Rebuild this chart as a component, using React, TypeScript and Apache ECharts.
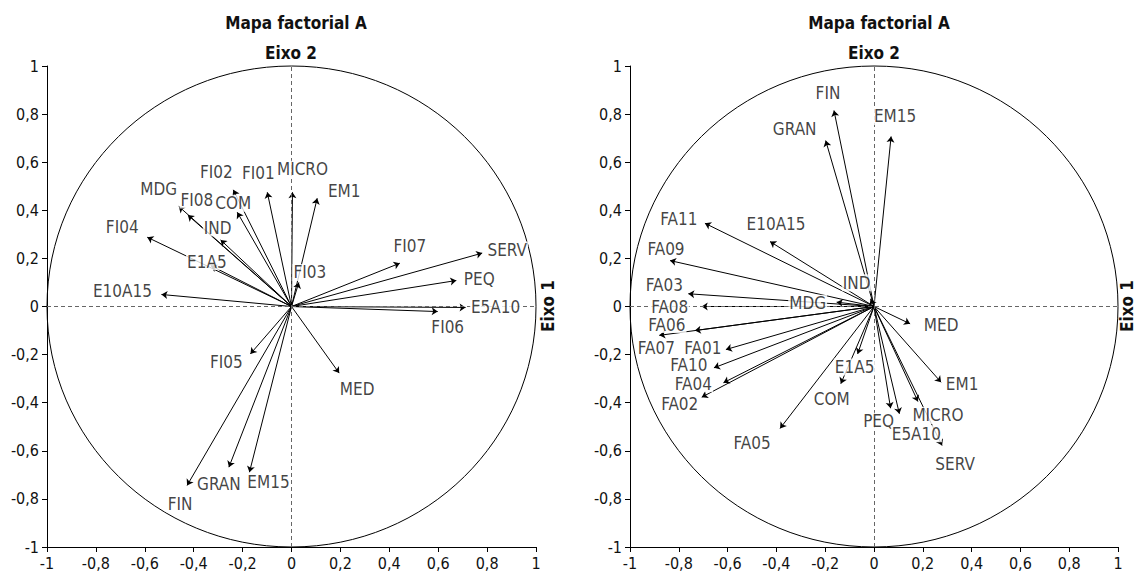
import React, { useEffect, useRef } from "react";
import * as echarts from "echarts";

// ---- Left map (FI variables) ----
const leftNames = ["FI02", "FI01", "MICRO", "EM1", "MDG", "FI08", "COM", "IND", "E1A5", "FI04", "E10A15", "FI03", "FI07", "SERV", "PEQ", "E5A10", "FI06", "MED", "FI05", "FIN", "GRAN", "EM15"];
const leftX = [-0.238, -0.099, 0.004, 0.105, -0.461, -0.424, -0.222, -0.29, -0.33, -0.59, -0.532, 0.03, 0.443, 0.78, 0.674, 0.712, 0.598, 0.195, -0.168, -0.427, -0.256, -0.172];
const leftY = [0.485, 0.475, 0.475, 0.45, 0.416, 0.38, 0.392, 0.277, 0.17, 0.288, 0.05, 0.1, 0.18, 0.222, 0.108, -0.004, -0.021, -0.277, -0.197, -0.744, -0.668, -0.689];
const leftLabelOffset = [[-17, -18], [-9, -19], [10, -23], [27, -7], [-20, -17], [9, -15], [-4, -9], [-3, -12], [-4, -4], [-25, -10], [-39, -3], [11, -10], [10, -17], [25, -3], [23, -2], [30, 0], [10, 15], [18, 16], [-24, 8], [-7, 19], [-10, 17], [19, 10]];

// ---- Right map (FA variables) ----
const rightNames = ["FIN", "GRAN", "EM15", "FA11", "E10A15", "FA09", "FA03", "FA08", "MDG", "IND", "FA06", "FA07", "FA01", "FA10", "FA04", "FA02", "E1A5", "COM", "MED", "EM1", "PEQ", "E5A10", "MICRO", "SERV", "FA05"];
const rightX = [-0.164, -0.198, 0.07, -0.693, -0.426, -0.836, -0.761, -0.706, -0.153, -0.014, -0.734, -0.88, -0.607, -0.656, -0.617, -0.706, -0.067, -0.136, 0.148, 0.275, 0.068, 0.104, 0.18, 0.279, -0.385];
const rightY = [0.815, 0.69, 0.707, 0.346, 0.27, 0.191, 0.053, 0.0, 0.018, 0.032, -0.1, -0.12, -0.179, -0.255, -0.317, -0.377, -0.197, -0.321, -0.072, -0.315, -0.423, -0.446, -0.395, -0.578, -0.507];
const rightLabelOffset = [[-6, -17], [-31, -12], [4, -20], [-26, -4], [6, -18], [-4, -12], [-24, -9], [-32, 0], [-29, 1], [-14, -16], [-28, -6], [-3, 13], [-23, -2], [-25, -3], [-30, 1], [-22, 7], [-3, 13], [-9, 15], [31, 1], [21, 2], [-12, 13], [17, 20], [20, 14], [13, 18], [-28, 15]];

const chartTitle = "Mapa factorial A";
const axis1Name = "Eixo 1";
const axis2Name = "Eixo 2";

const FONT = '"Liberation Sans Narrow", "DejaVu Sans Condensed", "Noto Sans", sans-serif';
const INK = "#111111";

const fmt = (v: number) => String(Math.round(v * 10) / 10).replace(".", ",");

function axisCommon(gridIndex: number) {
  return {
    gridIndex,
    type: "value",
    min: -1,
    max: 1,
    interval: 0.2,
    axisLine: { show: true, onZero: false, lineStyle: { color: "#000", width: 1 } },
    axisTick: { show: true, length: 5, lineStyle: { color: "#000" } },
    axisLabel: { formatter: fmt, fontFamily: FONT, fontSize: 16, color: INK },
    splitLine: { show: false },
  };
}

function buildSeries(idx: number, names: string[], xs: number[], ys: number[], offs: number[][]) {
  return [
    {
      type: "custom",
      xAxisIndex: idx,
      yAxisIndex: idx,
      silent: true,
      data: [[0, 0]],
      renderItem: (params: any, api: any) => {
        const c = api.coord([0, 0]);
        const s = api.size([1, 1]);
        return {
          type: "ellipse",
          shape: { cx: c[0], cy: c[1], rx: s[0], ry: s[1] },
          style: { fill: "none", stroke: "#000", lineWidth: 1 },
        };
      },
      z: 1,
    },
    {
      type: "lines",
      coordinateSystem: "cartesian2d",
      xAxisIndex: idx,
      yAxisIndex: idx,
      silent: true,
      symbol: ["none", "arrow"],
      symbolSize: 6,
      lineStyle: { color: "#000", width: 1, opacity: 1 },
      data: names.map((n, i) => ({ coords: [[0, 0], [xs[i], ys[i]]] })),
      markLine: {
        silent: true,
        symbol: "none",
        label: { show: false },
        lineStyle: { type: [4, 3], color: "#666", width: 1 },
        data: [{ xAxis: 0 }, { yAxis: 0 }],
      },
      z: 2,
    },
    {
      type: "scatter",
      xAxisIndex: idx,
      yAxisIndex: idx,
      silent: true,
      symbolSize: 1,
      itemStyle: { color: "transparent" },
      data: names.map((n, i) => ({
        name: n,
        value: [xs[i], ys[i]],
        label: { offset: offs[i] },
      })),
      label: {
        show: true,
        position: "inside",
        formatter: "{b}",
        fontFamily: FONT,
        fontSize: 17,
        color: INK,
        backgroundColor: "#fff",
        padding: [0, 1],
        align: "center",
        verticalAlign: "middle",
      },
      z: 5,
    },
  ];
}

export default function App() {
  const ref = useRef<HTMLDivElement>(null);
  useEffect(() => {
    if (!ref.current) return;
    const chart = echarts.init(ref.current, null, { renderer: "svg" });
    const grids = [
      { left: 47, top: 66, width: 489, height: 481 },
      { left: 630, top: 66, width: 488, height: 481 },
    ];
    const centers = [291, 874];
    const rightEdges = [548, 1127];
    chart.setOption({
      animation: false,
      backgroundColor: "#fff",
      title: centers.map((cx) => ({
        text: chartTitle,
        left: cx,
        top: 9,
        textAlign: "center",
        textStyle: { fontFamily: FONT, fontSize: 17, fontWeight: "bold", color: INK },
      })),
      grid: grids,
      xAxis: [axisCommon(0), axisCommon(1)],
      yAxis: [axisCommon(0), axisCommon(1)],
      graphic: [
        ...centers.map((cx) => ({
          type: "text",
          x: cx,
          y: 53,
          style: {
            text: axis2Name,
            fontFamily: FONT,
            fontSize: 17,
            fontWeight: "bold",
            fill: INK,
            align: "center",
            verticalAlign: "middle",
          },
        })),
        ...rightEdges.map((rx) => ({
          type: "text",
          x: rx,
          y: 306,
          rotation: Math.PI / 2,
          style: {
            text: axis1Name,
            fontFamily: FONT,
            fontSize: 17,
            fontWeight: "bold",
            fill: INK,
            align: "center",
            verticalAlign: "middle",
          },
        })),
      ],
      series: [
        ...buildSeries(0, leftNames, leftX, leftY, leftLabelOffset),
        ...buildSeries(1, rightNames, rightX, rightY, rightLabelOffset),
      ],
    });
    return () => chart.dispose();
  }, []);
  return (
    <div
      ref={ref}
      style={{ position: "fixed", left: 0, top: 0, width: 1136, height: 579, background: "#fff" }}
    />
  );
}
